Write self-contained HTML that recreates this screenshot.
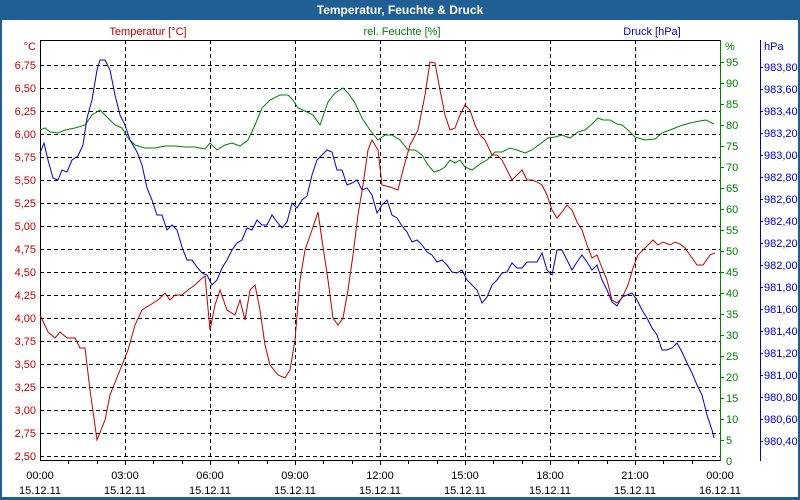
<!DOCTYPE html>
<html><head><meta charset="utf-8"><style>
html,body{margin:0;padding:0;background:#fff}
svg{display:block}
text{font-family:"Liberation Sans",sans-serif;font-size:11px}
</style></head><body>
<svg width="800" height="500" xmlns="http://www.w3.org/2000/svg">
<rect x="0" y="0" width="800" height="500" fill="#1f5f94"/>
<rect x="2" y="20" width="796" height="477" fill="#fff"/>
<text x="400" y="14" text-anchor="middle" fill="#fff" font-weight="bold" style="font-size:12px">Temperatur, Feuchte &amp; Druck</text>
<g stroke="#000" stroke-dasharray="4,3" stroke-width="1">
<line x1="40" y1="65.5" x2="720" y2="65.5"/><line x1="40" y1="88.5" x2="720" y2="88.5"/><line x1="40" y1="111.5" x2="720" y2="111.5"/><line x1="40" y1="134.5" x2="720" y2="134.5"/><line x1="40" y1="157.5" x2="720" y2="157.5"/><line x1="40" y1="180.5" x2="720" y2="180.5"/><line x1="40" y1="203.5" x2="720" y2="203.5"/><line x1="40" y1="226.5" x2="720" y2="226.5"/><line x1="40" y1="249.5" x2="720" y2="249.5"/><line x1="40" y1="272.5" x2="720" y2="272.5"/><line x1="40" y1="295.5" x2="720" y2="295.5"/><line x1="40" y1="318.5" x2="720" y2="318.5"/><line x1="40" y1="341.5" x2="720" y2="341.5"/><line x1="40" y1="364.5" x2="720" y2="364.5"/><line x1="40" y1="387.5" x2="720" y2="387.5"/><line x1="40" y1="410.5" x2="720" y2="410.5"/><line x1="40" y1="433.5" x2="720" y2="433.5"/><line x1="40" y1="456.5" x2="720" y2="456.5"/>
<line x1="125.5" y1="40" x2="125.5" y2="460"/><line x1="210.5" y1="40" x2="210.5" y2="460"/><line x1="295.5" y1="40" x2="295.5" y2="460"/><line x1="380.5" y1="40" x2="380.5" y2="460"/><line x1="465.5" y1="40" x2="465.5" y2="460"/><line x1="550.5" y1="40" x2="550.5" y2="460"/><line x1="635.5" y1="40" x2="635.5" y2="460"/>
</g>
<line x1="40" y1="40.5" x2="720" y2="40.5" stroke="#000"/>
<line x1="40.5" y1="40" x2="40.5" y2="461" stroke="#000"/>
<line x1="40" y1="460.5" x2="720" y2="460.5" stroke="#000"/>
<line x1="720.5" y1="40" x2="720.5" y2="461" stroke="#008000"/>
<line x1="760.5" y1="40" x2="760.5" y2="461" stroke="#0000cc"/>
<g stroke="#000" id="xt"></g>
<g fill="#c00000" text-anchor="end">
<text x="36" y="50">°C</text>
<text x="36" y="69">6,75</text><text x="36" y="92">6,50</text><text x="36" y="115">6,25</text><text x="36" y="138">6,00</text><text x="36" y="161">5,75</text><text x="36" y="184">5,50</text><text x="36" y="207">5,25</text><text x="36" y="230">5,00</text><text x="36" y="253">4,75</text><text x="36" y="276">4,50</text><text x="36" y="299">4,25</text><text x="36" y="322">4,00</text><text x="36" y="345">3,75</text><text x="36" y="368">3,50</text><text x="36" y="391">3,25</text><text x="36" y="414">3,00</text><text x="36" y="437">2,75</text><text x="36" y="460">2,50</text>
</g>
<text x="148" y="35" fill="#c00000" text-anchor="middle">Temperatur [°C]</text>
<text x="402" y="35" fill="#008000" text-anchor="middle">rel. Feuchte [%]</text>
<text x="652" y="35" fill="#0000cc" text-anchor="middle">Druck [hPa]</text>
<g fill="#008000">
<text x="725" y="50">%</text>
<text x="726" y="66">95</text><text x="726" y="87">90</text><text x="726" y="108">85</text><text x="726" y="129">80</text><text x="726" y="150">75</text><text x="726" y="171">70</text><text x="726" y="192">65</text><text x="726" y="213">60</text><text x="726" y="234">55</text><text x="726" y="255">50</text><text x="726" y="276">45</text><text x="726" y="297">40</text><text x="726" y="318">35</text><text x="726" y="339">30</text><text x="726" y="360">25</text><text x="726" y="381">20</text><text x="726" y="402">15</text><text x="726" y="423">10</text><text x="726" y="444">5</text><text x="726" y="465">0</text>
</g>
<g stroke="#008000"><line x1="720" y1="62.5" x2="724" y2="62.5"/><line x1="720" y1="83.5" x2="724" y2="83.5"/><line x1="720" y1="104.5" x2="724" y2="104.5"/><line x1="720" y1="125.5" x2="724" y2="125.5"/><line x1="720" y1="146.5" x2="724" y2="146.5"/><line x1="720" y1="167.5" x2="724" y2="167.5"/><line x1="720" y1="188.5" x2="724" y2="188.5"/><line x1="720" y1="209.5" x2="724" y2="209.5"/><line x1="720" y1="230.5" x2="724" y2="230.5"/><line x1="720" y1="251.5" x2="724" y2="251.5"/><line x1="720" y1="272.5" x2="724" y2="272.5"/><line x1="720" y1="293.5" x2="724" y2="293.5"/><line x1="720" y1="314.5" x2="724" y2="314.5"/><line x1="720" y1="335.5" x2="724" y2="335.5"/><line x1="720" y1="356.5" x2="724" y2="356.5"/><line x1="720" y1="377.5" x2="724" y2="377.5"/><line x1="720" y1="398.5" x2="724" y2="398.5"/><line x1="720" y1="419.5" x2="724" y2="419.5"/><line x1="720" y1="440.5" x2="724" y2="440.5"/></g>
<g fill="#0000cc">
<text x="764" y="50">hPa</text>
<text x="764" y="71">983,80</text><text x="764" y="93">983,60</text><text x="764" y="115">983,40</text><text x="764" y="137">983,20</text><text x="764" y="159">983,00</text><text x="764" y="181">982,80</text><text x="764" y="203">982,60</text><text x="764" y="225">982,40</text><text x="764" y="247">982,20</text><text x="764" y="269">982,00</text><text x="764" y="291">981,80</text><text x="764" y="313">981,60</text><text x="764" y="335">981,40</text><text x="764" y="357">981,20</text><text x="764" y="379">981,00</text><text x="764" y="401">980,80</text><text x="764" y="423">980,60</text><text x="764" y="445">980,40</text>
</g>
<g stroke="#0000cc"><line x1="760" y1="67.5" x2="763" y2="67.5"/><line x1="760" y1="89.5" x2="763" y2="89.5"/><line x1="760" y1="111.5" x2="763" y2="111.5"/><line x1="760" y1="133.5" x2="763" y2="133.5"/><line x1="760" y1="155.5" x2="763" y2="155.5"/><line x1="760" y1="177.5" x2="763" y2="177.5"/><line x1="760" y1="199.5" x2="763" y2="199.5"/><line x1="760" y1="221.5" x2="763" y2="221.5"/><line x1="760" y1="243.5" x2="763" y2="243.5"/><line x1="760" y1="265.5" x2="763" y2="265.5"/><line x1="760" y1="287.5" x2="763" y2="287.5"/><line x1="760" y1="309.5" x2="763" y2="309.5"/><line x1="760" y1="331.5" x2="763" y2="331.5"/><line x1="760" y1="353.5" x2="763" y2="353.5"/><line x1="760" y1="375.5" x2="763" y2="375.5"/><line x1="760" y1="397.5" x2="763" y2="397.5"/><line x1="760" y1="419.5" x2="763" y2="419.5"/><line x1="760" y1="441.5" x2="763" y2="441.5"/></g>
<g stroke="#000"><line x1="68.5" y1="460" x2="68.5" y2="464"/><line x1="97.5" y1="460" x2="97.5" y2="464"/><line x1="125.5" y1="460" x2="125.5" y2="465"/><line x1="153.5" y1="460" x2="153.5" y2="464"/><line x1="182.5" y1="460" x2="182.5" y2="464"/><line x1="210.5" y1="460" x2="210.5" y2="465"/><line x1="238.5" y1="460" x2="238.5" y2="464"/><line x1="267.5" y1="460" x2="267.5" y2="464"/><line x1="295.5" y1="460" x2="295.5" y2="465"/><line x1="323.5" y1="460" x2="323.5" y2="464"/><line x1="352.5" y1="460" x2="352.5" y2="464"/><line x1="380.5" y1="460" x2="380.5" y2="465"/><line x1="408.5" y1="460" x2="408.5" y2="464"/><line x1="437.5" y1="460" x2="437.5" y2="464"/><line x1="465.5" y1="460" x2="465.5" y2="465"/><line x1="493.5" y1="460" x2="493.5" y2="464"/><line x1="522.5" y1="460" x2="522.5" y2="464"/><line x1="550.5" y1="460" x2="550.5" y2="465"/><line x1="578.5" y1="460" x2="578.5" y2="464"/><line x1="607.5" y1="460" x2="607.5" y2="464"/><line x1="635.5" y1="460" x2="635.5" y2="465"/><line x1="663.5" y1="460" x2="663.5" y2="464"/><line x1="692.5" y1="460" x2="692.5" y2="464"/></g>
<g fill="#000" text-anchor="middle">
<text x="40" y="479">00:00</text><text x="40" y="494">15.12.11</text>
<text x="125" y="479">03:00</text><text x="125" y="494">15.12.11</text>
<text x="210" y="479">06:00</text><text x="210" y="494">15.12.11</text>
<text x="295" y="479">09:00</text><text x="295" y="494">15.12.11</text>
<text x="380" y="479">12:00</text><text x="380" y="494">15.12.11</text>
<text x="465" y="479">15:00</text><text x="465" y="494">15.12.11</text>
<text x="550" y="479">18:00</text><text x="550" y="494">15.12.11</text>
<text x="635" y="479">21:00</text><text x="635" y="494">15.12.11</text>
<text x="720" y="479">00:00</text><text x="720" y="494">16.12.11</text>
</g>
<polyline fill="none" stroke="#008000" stroke-width="1" points="40,130 45,128 50,132 58,133 65,130 75,128 85,125 92,115 100,110 108,118 115,125 122,128 128,138 135,145 145,148 155,148 165,146 175,146 185,147 195,147 205,149 210,143 217,150 225,145 232,143 240,146 248,140 255,125 262,108 270,100 280,95 288,95 293,100 298,108 305,111 313,115 320,125 328,102 335,93 343,88 348,93 355,103 362,118 370,130 378,140 385,135 392,135 400,140 408,150 415,150 422,155 428,165 434,172 440,170 445,167 450,160 455,163 460,160 465,167 472,170 480,164 487,160 495,152 502,152 510,148 517,150 525,153 532,150 540,144 548,138 555,137 562,135 570,138 578,132 585,130 592,124 598,118 603,120 610,120 617,124 622,125 628,130 635,137 645,140 655,139 662,133 670,130 680,126 690,123 700,121 706,120 714,124"/>
<polyline fill="none" stroke="#0000cc" stroke-width="1" points="40,153 44,143 48,160 53,178 58,180 62,170 67,172 72,160 78,156 83,145 87,118 92,100 97,70 100,60 105,60 110,70 115,95 120,115 125,125 130,140 137,152 142,165 147,188 152,200 157,215 162,215 167,230 172,225 177,230 182,247 187,260 192,260 197,267 202,273 207,275 212,285 217,280 222,268 227,260 232,250 237,243 242,240 247,228 252,230 257,220 262,225 267,225 272,215 277,222 282,228 287,222 292,203 297,208 302,200 307,196 312,175 317,160 322,155 327,150 332,152 337,170 342,170 347,185 352,183 357,180 362,190 367,188 372,195 377,213 382,205 387,200 392,215 397,218 402,226 407,232 412,242 417,240 422,245 427,252 432,255 437,262 442,260 447,265 452,272 457,273 462,270 467,280 472,285 477,290 482,303 487,297 492,285 497,280 502,273 507,272 512,263 517,268 522,268 527,262 532,262 537,262 542,253 547,270 552,275 557,250 562,250 567,260 572,270 577,262 582,255 587,262 592,270 597,265 602,280 607,290 612,302 617,306 622,297 627,295 632,293 637,300 642,310 647,318 652,328 657,335 662,350 667,350 672,348 677,343 682,352 687,363 692,373 697,385 702,395 707,415 712,430 714,438"/>
<polyline fill="none" stroke="#c00000" stroke-width="1" points="40,315 48,332 55,338 60,332 67,338 75,338 80,348 85,348 90,390 97,440 105,420 110,395 120,370 128,350 135,325 142,310 150,305 158,300 165,293 170,300 175,295 182,295 188,290 195,285 200,280 205,276 210,330 215,305 220,290 227,310 235,315 240,300 245,320 250,290 255,285 260,310 265,345 270,365 278,375 285,378 290,370 295,340 300,280 305,250 312,230 318,212 322,240 328,280 333,318 338,325 343,318 348,290 353,255 358,215 363,185 368,150 372,140 378,150 382,185 390,187 398,190 403,170 410,145 418,130 425,95 430,62 435,63 440,90 445,115 450,130 455,128 460,115 465,105 470,110 475,125 480,135 485,140 492,155 497,155 502,160 507,170 512,180 517,175 522,170 527,180 532,180 537,182 542,185 547,195 552,210 557,218 562,212 567,205 572,210 577,222 582,230 587,245 592,258 597,255 602,268 607,280 612,300 617,303 622,298 628,285 633,268 638,255 643,250 648,245 653,240 658,245 663,242 670,245 675,242 680,244 685,248 690,255 697,265 703,265 710,255 715,253"/>
</svg>
</body></html>
